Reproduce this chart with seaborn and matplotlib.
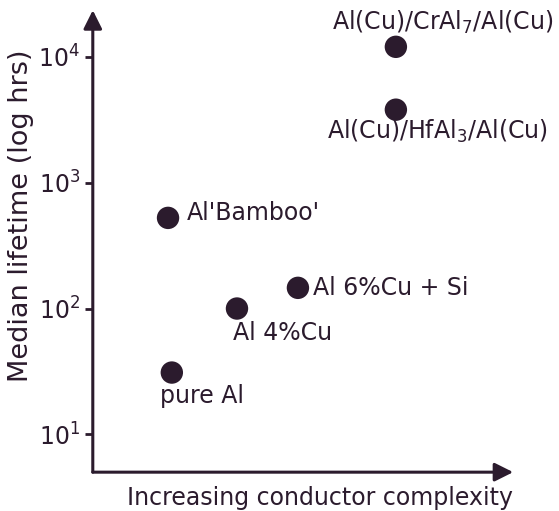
import matplotlib
matplotlib.use("Agg")
import matplotlib.pyplot as plt
import seaborn as sns
import pandas as pd

# values
conductors = ["pure Al", "Al'Bamboo'", "Al 4%Cu", "Al 6%Cu + Si",
              "Al(Cu)/CrAl$_7$/Al(Cu)", "Al(Cu)/HfAl$_3$/Al(Cu)"]
complexity = [1.88, 1.79, 3.43, 4.88, 7.21, 7.21]
lifetime_hrs = [31, 525, 100, 146, 12000, 3800]

ink = "#2b1b2d"

sns.set_theme(style="white")
plt.rcParams["font.family"] = ["DejaVu Sans"]
plt.rcParams["mathtext.fontset"] = "dejavusans"

df = pd.DataFrame({"conductor": conductors, "complexity": complexity,
                   "lifetime": lifetime_hrs})

fig = plt.figure(figsize=(5.59, 5.11), dpi=100)
ax = fig.add_axes([0.166, 0.076, 0.752, 0.904])

sns.scatterplot(data=df, x="complexity", y="lifetime", ax=ax, s=260,
                color=ink, edgecolor="none", legend=False)
ax.set_yscale("log")
ax.set_xlim(0, 10)
ax.set_ylim(10 ** 0.70, 10 ** 4.37)

# label offsets from each dot, in pixels (right, up)
offsets = {
    "pure Al": (-12, -23),
    "Al'Bamboo'": (19, 5),
    "Al 4%Cu": (-4, -24),
    "Al 6%Cu + Si": (15, 0),
    "Al(Cu)/CrAl$_7$/Al(Cu)": (-64, 24),
    "Al(Cu)/HfAl$_3$/Al(Cu)": (-69, -22),
}
for _, row in df.iterrows():
    dx, dy = offsets[row["conductor"]]
    ax.annotate(row["conductor"], (row["complexity"], row["lifetime"]),
                xytext=(dx * 0.72, dy * 0.72), textcoords="offset points",
                ha="left", va="center", fontsize=17, color=ink)

# arrow-style axes
for s in ax.spines.values():
    s.set_visible(False)
arrow = dict(arrowstyle="-|>", lw=2.2, color=ink, mutation_scale=28,
             shrinkA=0, shrinkB=0)
ax.annotate("", xy=(0, 1), xytext=(0, 0), xycoords="axes fraction", arrowprops=arrow)
ax.annotate("", xy=(1, 0), xytext=(0, 0), xycoords="axes fraction", arrowprops=arrow)

ax.set_xticks([])
ax.set_yticks([10, 100, 1000, 10000])
ax.set_yticklabels(["10$^1$", "10$^2$", "10$^3$", "10$^4$"])
ax.yaxis.set_minor_locator(matplotlib.ticker.NullLocator())
ax.tick_params(axis="y", which="major", left=True, length=6, width=2,
               color=ink, labelcolor=ink, labelsize=17, pad=3)

ax.set_ylabel("Median lifetime (log hrs)", fontsize=19.5, color=ink)
ax.set_xlabel("Increasing conductor complexity", fontsize=17, color=ink)
ax.yaxis.set_label_coords(-0.14, 0.555)
ax.xaxis.set_label_coords(0.54, -0.03)

fig.savefig("out.png", dpi=100)
